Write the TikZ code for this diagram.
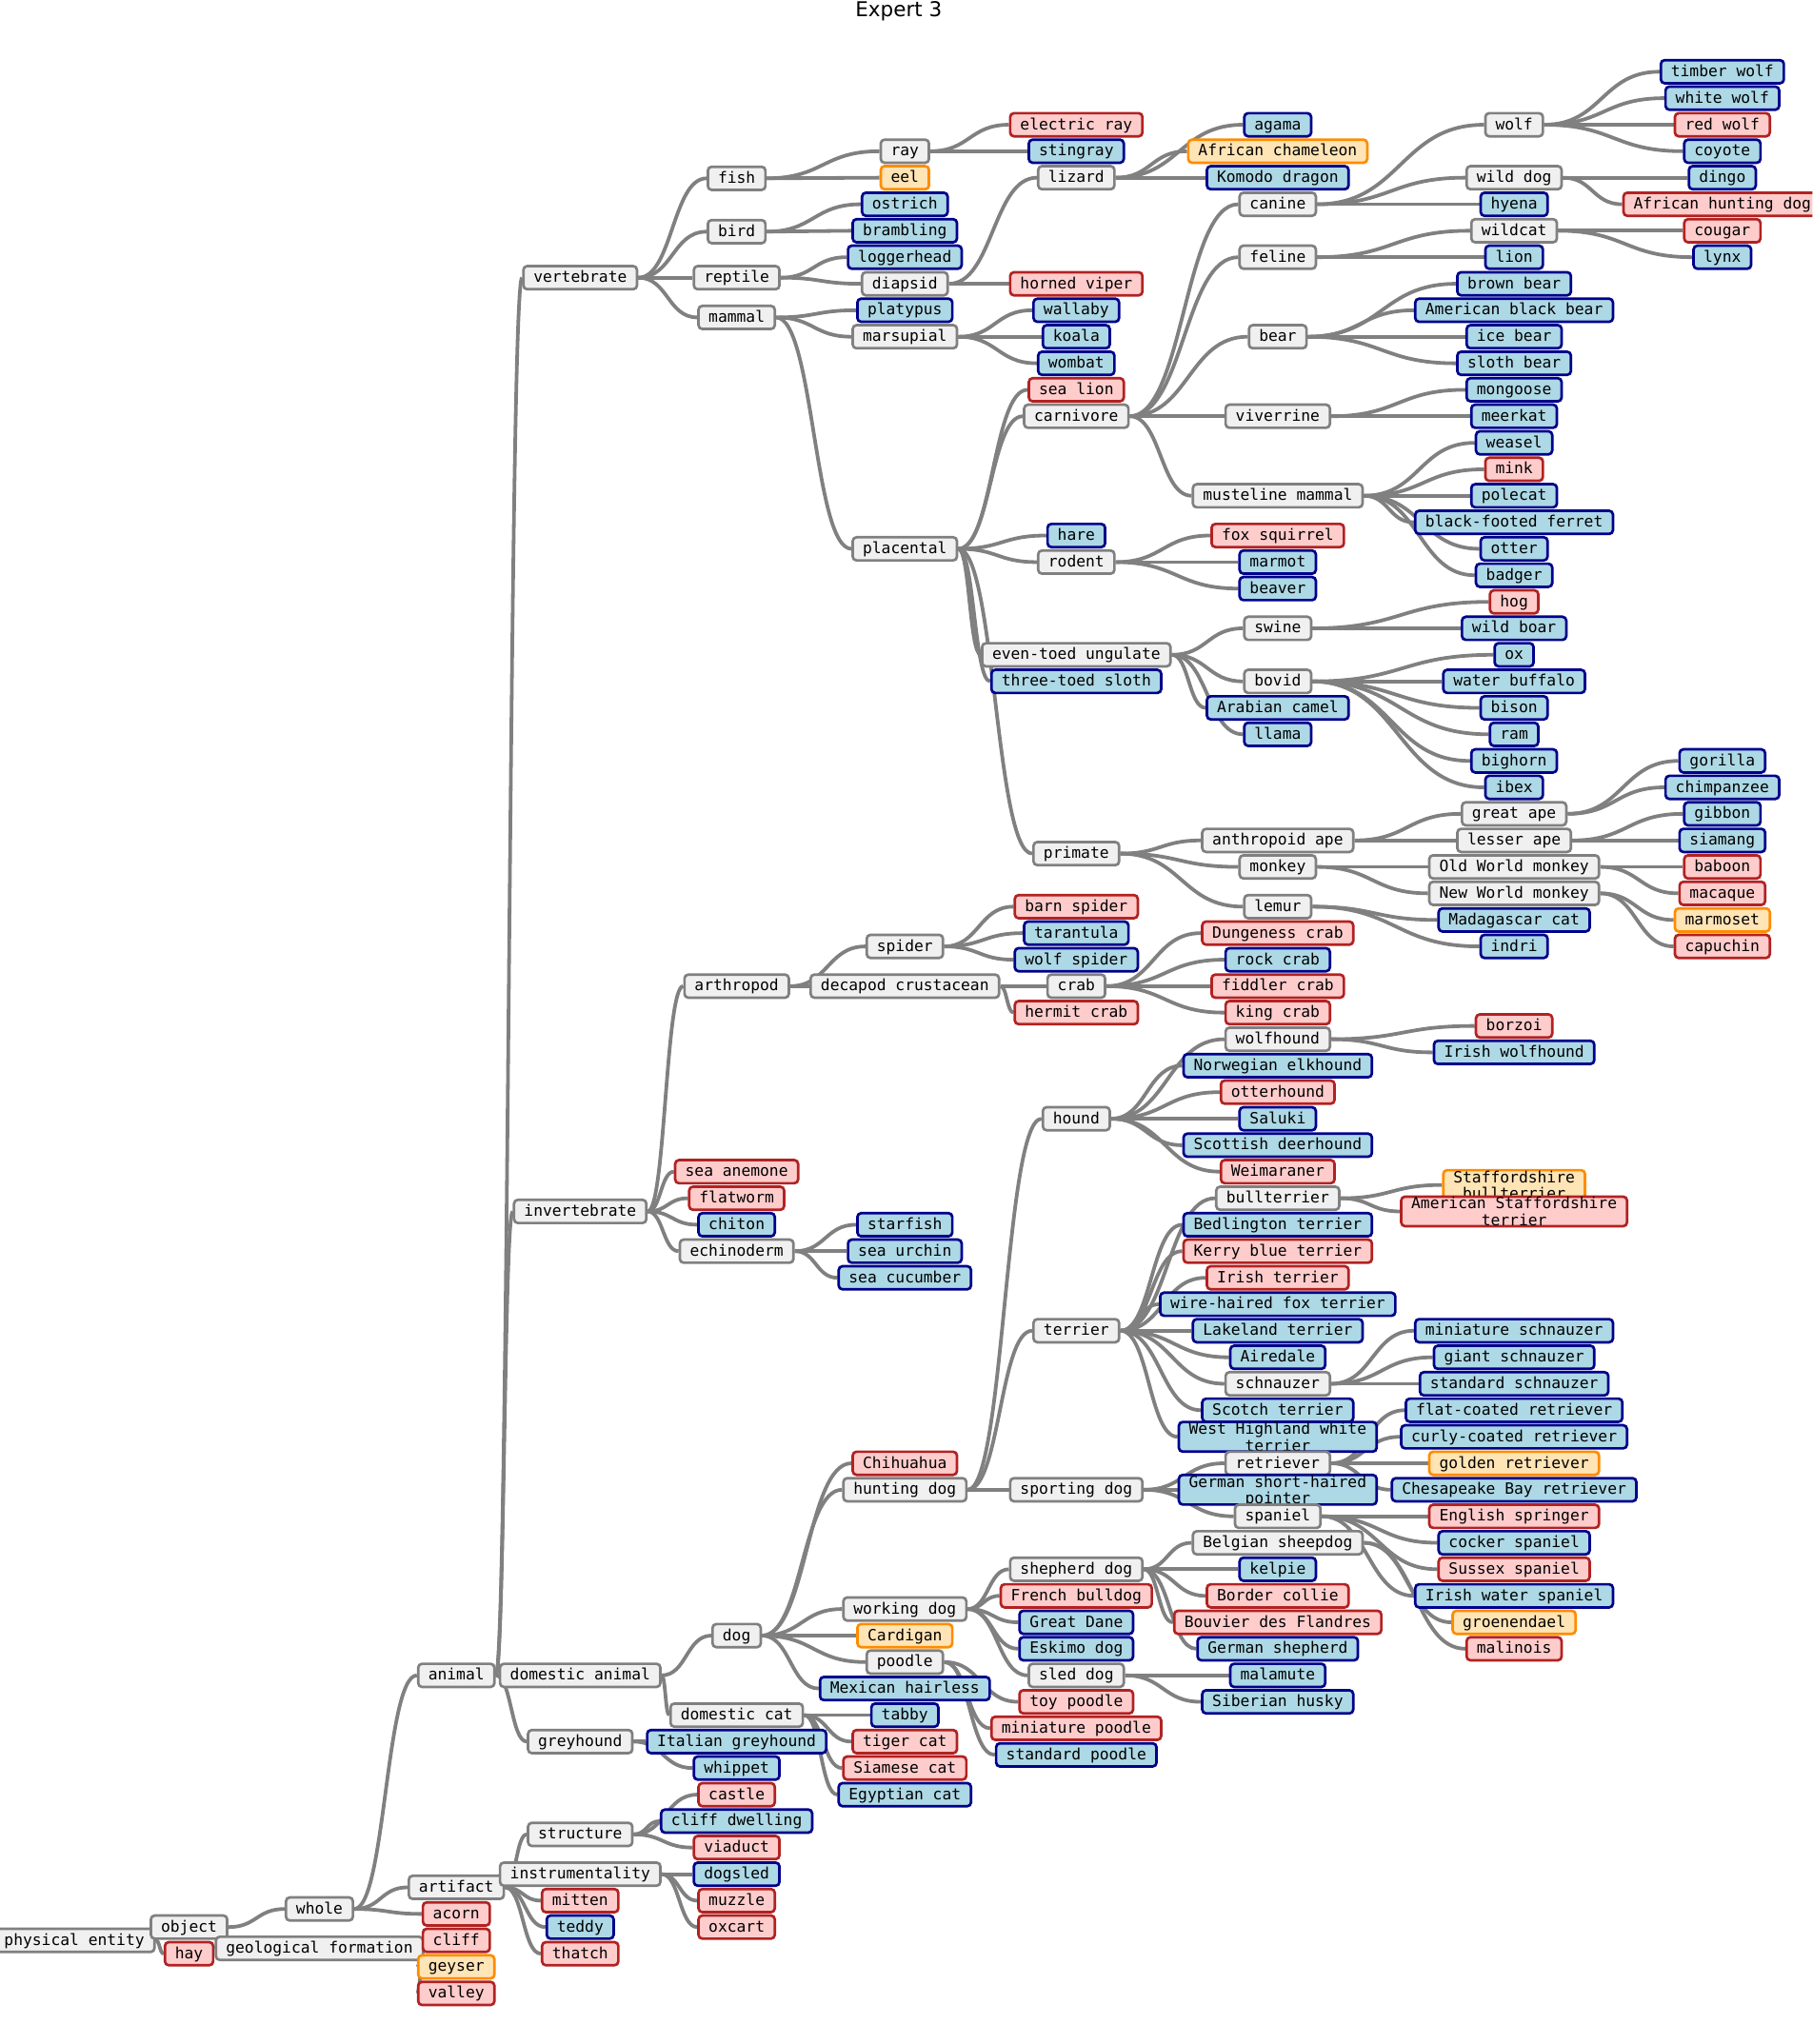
\documentclass[tikz,border=0pt]{standalone}
\usepackage{fontspec}
\newfontfamily\monofont{DejaVu Sans Mono}
\newfontfamily\titlefont{DejaVu Sans}
\usetikzlibrary{calc}
\pgfdeclarelayer{bg}
\pgfsetlayers{bg,main}
\definecolor{gfill}{HTML}{F0F0F0}
\definecolor{gline}{HTML}{808080}
\definecolor{bfill}{HTML}{ADD8E6}
\definecolor{bline}{HTML}{00008B}
\definecolor{rfill}{HTML}{FFCCCC}
\definecolor{rline}{HTML}{B22222}
\definecolor{ofill}{HTML}{FFE4B5}
\definecolor{oline}{HTML}{FF8C00}
\tikzset{
 box/.style={rectangle, rounded corners=4pt, line width=2.7pt,
   font=\monofont\fontsize{16.3}{17.7}\selectfont,
   inner xsep=10.6pt, inner ysep=0pt, minimum height=24.3pt,
   text height=12pt, text depth=2pt},
 gnode/.style={box, fill=gfill, draw=gline},
 bnode/.style={box, fill=bfill, draw=bline},
 rnode/.style={box, fill=rfill, draw=rline},
 onode/.style={box, fill=ofill, draw=oline},
 twoline/.style={align=center, text height={}, text depth=0pt, minimum height=31pt, inner ysep=0.5pt},
 linkline/.style={draw=gline, line width=3.8pt},
 titlestyle/.style={font=\titlefont\fontsize{21.5}{24}\selectfont, inner sep=0pt},
}
\newcommand\treelink[2]{\draw[linkline] let \p1=(#1.east), \p2=(#2.west) in (\p1) .. controls ({(\x1+\x2)/2},\y1) and ({(\x1+\x2)/2},\y2) .. (\p2);}
\newcommand\treelinks[2]{\foreach \c in {#2} {\treelink{#1}{\c}}}
\begin{document}
\begin{tikzpicture}[x=1.3692pt,y=-1.3692pt]
\useasboundingbox (0,0) rectangle (1390,1568);
\clip (0,0) rectangle (1390,1568);
\node[titlestyle, anchor=base] (title) at (689.3,12.7) {Expert 3};
% column 0-3
\node[gnode] (pe) at (57,1488.5) {physical entity};
\node[gnode] (obj) at (145,1478.3) {object};
\node[rnode] (hay) at (145,1498.7) {hay};
\node[gnode] (whole) at (245,1464.4) {whole};
\node[gnode] (geo) at (245,1494.6) {geological formation};
\node[gnode] (animal) at (350,1285.2) {animal};
\node[gnode] (artifact) at (350,1447.8) {artifact};
\node[rnode] (acorn) at (350,1468.2) {acorn};
\node[rnode] (cliff) at (350,1488.5) {cliff};
\node[onode] (geyser) at (350,1508.8) {geyser};
\node[rnode] (valley) at (350,1529.2) {valley};
% column 4
\node[gnode] (vertebrate) at (445,213) {vertebrate};
\node[gnode] (invertebrate) at (445,929.3) {invertebrate};
\node[gnode] (domanimal) at (445,1285.2) {domestic animal};
\node[gnode] (greyhound) at (445,1336) {greyhound};
\node[gnode] (structure) at (445,1407.2) {structure};
\node[gnode] (instrumentality) at (445,1437.7) {instrumentality};
\node[rnode] (mitten) at (445,1458) {mitten};
\node[bnode] (teddy) at (445,1478.3) {teddy};
\node[rnode] (thatch) at (445,1498.7) {thatch};
% column 5
\node[gnode] (fish) at (565,136.8) {fish};
\node[gnode] (bird) at (565,177.7) {bird};
\node[gnode] (reptile) at (565,213) {reptile};
\node[gnode] (mammal) at (565,243.5) {mammal};
\node[gnode] (arthropod) at (565,756.5) {arthropod};
\node[rnode] (seaanemone) at (565,898.8) {sea anemone};
\node[rnode] (flatworm) at (565,919.2) {flatworm};
\node[bnode] (chiton) at (565,939.5) {chiton};
\node[gnode] (echinoderm) at (565,959.8) {echinoderm};
\node[gnode] (dog) at (565,1254.7) {dog};
\node[gnode] (domcat) at (565,1315.7) {domestic cat};
\node[bnode] (italgrey) at (565,1336) {Italian greyhound};
\node[bnode] (whippet) at (565,1356.3) {whippet};
\node[rnode] (castle) at (565,1376.7) {castle};
\node[bnode] (cliffdw) at (565,1397) {cliff dwelling};
\node[rnode] (viaduct) at (565,1417.3) {viaduct};
\node[bnode] (dogsled) at (565,1437.7) {dogsled};
\node[rnode] (muzzle) at (565,1458) {muzzle};
\node[rnode] (oxcart) at (565,1478.3) {oxcart};
% column 6
\node[gnode] (ray) at (694,116) {ray};
\node[onode] (eel) at (694,136.3) {eel};
\node[bnode] (ostrich) at (694,156.7) {ostrich};
\node[bnode] (brambling) at (694,177) {brambling};
\node[bnode] (loggerhead) at (694,197.3) {loggerhead};
\node[gnode] (diapsid) at (694,217.7) {diapsid};
\node[bnode] (platypus) at (694,238) {platypus};
\node[gnode] (marsupial) at (694,258.3) {marsupial};
\node[gnode] (placental) at (694,421) {placental};
\node[gnode] (spider) at (694,726) {spider};
\node[gnode] (decapod) at (694,756.5) {decapod crustacean};
\node[bnode] (starfish) at (694,939.5) {starfish};
\node[bnode] (seaurchin) at (694,959.8) {sea urchin};
\node[bnode] (seacucumber) at (694,980.2) {sea cucumber};
\node[rnode] (chihuahua) at (694,1122.5) {Chihuahua};
\node[gnode] (huntingdog) at (694,1142.8) {hunting dog};
\node[gnode] (workingdog) at (694,1234.3) {working dog};
\node[onode] (cardigan) at (694,1254.7) {Cardigan};
\node[gnode] (poodle) at (694,1275) {poodle};
\node[bnode] (mexhairless) at (694,1295.3) {Mexican hairless};
\node[bnode] (tabby) at (694,1315.7) {tabby};
\node[rnode] (tigercat) at (694,1336) {tiger cat};
\node[rnode] (siamese) at (694,1356.3) {Siamese cat};
\node[bnode] (egyptian) at (694,1376.7) {Egyptian cat};
% column 7
\node[rnode] (electricray) at (825.5,95.7) {electric ray};
\node[bnode] (stingray) at (825.5,116) {stingray};
\node[gnode] (lizard) at (825.5,136.3) {lizard};
\node[rnode] (hornedviper) at (825.5,217.7) {horned viper};
\node[bnode] (wallaby) at (825.5,238) {wallaby};
\node[bnode] (koala) at (825.5,258.3) {koala};
\node[bnode] (wombat) at (825.5,278.7) {wombat};
\node[rnode] (sealion) at (825.5,299) {sea lion};
\node[gnode] (carnivore) at (825.5,319.3) {carnivore};
\node[bnode] (hare) at (825.5,410.8) {hare};
\node[gnode] (rodent) at (825.5,431.2) {rodent};
\node[gnode] (eventoed) at (825.5,502.3) {even-toed ungulate};
\node[bnode] (sloth) at (825.5,522.7) {three-toed sloth};
\node[gnode] (primate) at (825.5,654.8) {primate};
\node[rnode] (barnspider) at (825.5,695.5) {barn spider};
\node[bnode] (tarantula) at (825.5,715.8) {tarantula};
\node[bnode] (wolfspider) at (825.5,736.2) {wolf spider};
\node[gnode] (crab) at (825.5,756.5) {crab};
\node[rnode] (hermitcrab) at (825.5,776.8) {hermit crab};
\node[gnode] (hound) at (825.5,858.2) {hound};
\node[gnode] (terrier) at (825.5,1020.8) {terrier};
\node[gnode] (sportingdog) at (825.5,1142.8) {sporting dog};
\node[gnode] (shepherddog) at (825.5,1203.8) {shepherd dog};
\node[rnode] (frenchbulldog) at (825.5,1224.2) {French bulldog};
\node[bnode] (greatdane) at (825.5,1244.5) {Great Dane};
\node[bnode] (eskimo) at (825.5,1264.8) {Eskimo dog};
\node[gnode] (sleddog) at (825.5,1285.2) {sled dog};
\node[rnode] (toypoodle) at (825.5,1305.5) {toy poodle};
\node[rnode] (minipoodle) at (825.5,1325.8) {miniature poodle};
\node[bnode] (stdpoodle) at (825.5,1346.2) {standard poodle};
% column 8
\node[bnode] (agama) at (980,95.7) {agama};
\node[onode] (chameleon) at (980,116) {African chameleon};
\node[bnode] (komodo) at (980,136.3) {Komodo dragon};
\node[gnode] (canine) at (980,156.7) {canine};
\node[gnode] (feline) at (980,197.3) {feline};
\node[gnode] (bear) at (980,258.3) {bear};
\node[gnode] (viverrine) at (980,319.3) {viverrine};
\node[gnode] (musteline) at (980,380.3) {musteline mammal};
\node[rnode] (foxsquirrel) at (980,410.8) {fox squirrel};
\node[bnode] (marmot) at (980,431.2) {marmot};
\node[bnode] (beaver) at (980,451.5) {beaver};
\node[gnode] (swine) at (980,482) {swine};
\node[gnode] (bovid) at (980,522.7) {bovid};
\node[bnode] (camel) at (980,543) {Arabian camel};
\node[bnode] (llama) at (980,563.3) {llama};
\node[gnode] (anthropoid) at (980,644.7) {anthropoid ape};
\node[gnode] (monkey) at (980,665) {monkey};
\node[gnode] (lemur) at (980,695.5) {lemur};
\node[rnode] (dungeness) at (980,715.8) {Dungeness crab};
\node[bnode] (rockcrab) at (980,736.2) {rock crab};
\node[rnode] (fiddler) at (980,756.5) {fiddler crab};
\node[rnode] (kingcrab) at (980,776.8) {king crab};
\node[gnode] (wolfhound) at (980,797.2) {wolfhound};
\node[bnode] (elkhound) at (980,817.5) {Norwegian elkhound};
\node[rnode] (otterhound) at (980,837.8) {otterhound};
\node[bnode] (saluki) at (980,858.2) {Saluki};
\node[bnode] (deerhound) at (980,878.5) {Scottish deerhound};
\node[rnode] (weimaraner) at (980,898.8) {Weimaraner};
\node[gnode] (bullterrier) at (980,919.2) {bullterrier};
\node[bnode] (bedlington) at (980,939.5) {Bedlington terrier};
\node[rnode] (kerry) at (980,959.8) {Kerry blue terrier};
\node[rnode] (irishterrier) at (980,980.2) {Irish terrier};
\node[bnode] (wirehaired) at (980,1000.5) {wire-haired fox terrier};
\node[bnode] (lakeland) at (980,1020.8) {Lakeland terrier};
\node[bnode] (airedale) at (980,1041.2) {Airedale};
\node[gnode] (schnauzer) at (980,1061.5) {schnauzer};
\node[bnode] (scotch) at (980,1081.8) {Scotch terrier};
\node[bnode,twoline] (westhighland) at (980,1102.2) {West Highland white\\terrier};
\node[gnode] (retriever) at (980,1122.5) {retriever};
\node[bnode,twoline] (gsp) at (980,1142.8) {German short-haired\\pointer};
\node[gnode] (spaniel) at (980,1163.2) {spaniel};
\node[gnode] (belgian) at (980,1183.5) {Belgian sheepdog};
\node[bnode] (kelpie) at (980,1203.8) {kelpie};
\node[rnode] (bordercollie) at (980,1224.2) {Border collie};
\node[rnode] (bouvier) at (980,1244.5) {Bouvier des Flandres};
\node[bnode] (germanshepherd) at (980,1264.8) {German shepherd};
\node[bnode] (malamute) at (980,1285.2) {malamute};
\node[bnode] (husky) at (980,1305.5) {Siberian husky};
% column 9
\node[gnode] (wolf) at (1161.3,95.7) {wolf};
\node[gnode] (wilddog) at (1161.3,136.3) {wild dog};
\node[bnode] (hyena) at (1161.3,156.7) {hyena};
\node[gnode] (wildcat) at (1161.3,177) {wildcat};
\node[bnode] (lion) at (1161.3,197.3) {lion};
\node[bnode] (brownbear) at (1161.3,217.7) {brown bear};
\node[bnode] (blackbear) at (1161.3,238) {American black bear};
\node[bnode] (icebear) at (1161.3,258.3) {ice bear};
\node[bnode] (slothbear) at (1161.3,278.7) {sloth bear};
\node[bnode] (mongoose) at (1161.3,299) {mongoose};
\node[bnode] (meerkat) at (1161.3,319.3) {meerkat};
\node[bnode] (weasel) at (1161.3,339.7) {weasel};
\node[rnode] (mink) at (1161.3,360) {mink};
\node[bnode] (polecat) at (1161.3,380.3) {polecat};
\node[bnode] (bfferret) at (1161.3,400.7) {black-footed ferret};
\node[bnode] (otter) at (1161.3,421) {otter};
\node[bnode] (badger) at (1161.3,441.3) {badger};
\node[rnode] (hog) at (1161.3,461.7) {hog};
\node[bnode] (wildboar) at (1161.3,482) {wild boar};
\node[bnode] (ox) at (1161.3,502.3) {ox};
\node[bnode] (waterbuffalo) at (1161.3,522.7) {water buffalo};
\node[bnode] (bison) at (1161.3,543) {bison};
\node[bnode] (ram) at (1161.3,563.3) {ram};
\node[bnode] (bighorn) at (1161.3,583.7) {bighorn};
\node[bnode] (ibex) at (1161.3,604) {ibex};
\node[gnode] (greatape) at (1161.3,624.3) {great ape};
\node[gnode] (lesserape) at (1161.3,644.7) {lesser ape};
\node[gnode] (oldworld) at (1161.3,665) {Old World monkey};
\node[gnode] (newworld) at (1161.3,685.3) {New World monkey};
\node[bnode] (madcat) at (1161.3,705.7) {Madagascar cat};
\node[bnode] (indri) at (1161.3,726) {indri};
\node[rnode] (borzoi) at (1161.3,787) {borzoi};
\node[bnode] (irishwolfhound) at (1161.3,807.3) {Irish wolfhound};
\node[onode,twoline] (staffbull) at (1161.3,909) {Staffordshire\\bullterrier};
\node[rnode,twoline] (amstaff) at (1161.3,929.3) {American Staffordshire\\terrier};
\node[bnode] (minischnauzer) at (1161.3,1020.8) {miniature schnauzer};
\node[bnode] (giantschnauzer) at (1161.3,1041.2) {giant schnauzer};
\node[bnode] (stdschnauzer) at (1161.3,1061.5) {standard schnauzer};
\node[bnode] (flatcoated) at (1161.3,1081.8) {flat-coated retriever};
\node[bnode] (curlycoated) at (1161.3,1102.2) {curly-coated retriever};
\node[onode] (golden) at (1161.3,1122.5) {golden retriever};
\node[bnode] (chesapeake) at (1161.3,1142.8) {Chesapeake Bay retriever};
\node[rnode] (springer) at (1161.3,1163.2) {English springer};
\node[bnode] (cocker) at (1161.3,1183.5) {cocker spaniel};
\node[rnode] (sussex) at (1161.3,1203.8) {Sussex spaniel};
\node[bnode] (irishwater) at (1161.3,1224.2) {Irish water spaniel};
\node[onode] (groenendael) at (1161.3,1244.5) {groenendael};
\node[rnode] (malinois) at (1161.3,1264.8) {malinois};
% column 10
\node[bnode] (timberwolf) at (1321,55) {timber wolf};
\node[bnode] (whitewolf) at (1321,75.3) {white wolf};
\node[rnode] (redwolf) at (1321,95.7) {red wolf};
\node[bnode] (coyote) at (1321,116) {coyote};
\node[bnode] (dingo) at (1321,136.3) {dingo};
\node[rnode] (ahd) at (1321,156.7) {African hunting dog};
\node[rnode] (cougar) at (1321,177) {cougar};
\node[bnode] (lynx) at (1321,197.3) {lynx};
\node[bnode] (gorilla) at (1321,583.7) {gorilla};
\node[bnode] (chimp) at (1321,604) {chimpanzee};
\node[bnode] (gibbon) at (1321,624.3) {gibbon};
\node[bnode] (siamang) at (1321,644.7) {siamang};
\node[rnode] (baboon) at (1321,665) {baboon};
\node[rnode] (macaque) at (1321,685.3) {macaque};
\node[onode] (marmoset) at (1321,705.7) {marmoset};
\node[rnode] (capuchin) at (1321,726) {capuchin};
% connectors
\begin{pgfonlayer}{bg}
\treelinks{pe}{obj,hay}
\treelinks{obj}{whole,geo}
\treelinks{whole}{animal,artifact,acorn}
\treelinks{geo}{cliff,geyser,valley}
\treelinks{animal}{vertebrate,invertebrate,domanimal,greyhound}
\treelinks{artifact}{structure,instrumentality,mitten,teddy,thatch}
\treelinks{structure}{castle,cliffdw,viaduct}
\treelinks{instrumentality}{dogsled,muzzle,oxcart}
\treelinks{domanimal}{dog,domcat}
\treelinks{greyhound}{italgrey,whippet}
\treelinks{domcat}{tabby,tigercat,siamese,egyptian}
\treelinks{dog}{chihuahua,huntingdog,workingdog,cardigan,poodle,mexhairless}
\treelinks{huntingdog}{hound,terrier,sportingdog}
\treelinks{workingdog}{shepherddog,frenchbulldog,greatdane,eskimo,sleddog}
\treelinks{poodle}{toypoodle,minipoodle,stdpoodle}
\treelinks{shepherddog}{belgian,kelpie,bordercollie,bouvier,germanshepherd}
\treelinks{belgian}{groenendael,malinois}
\treelinks{sleddog}{malamute,husky}
\treelinks{sportingdog}{retriever,gsp,spaniel}
\treelinks{retriever}{flatcoated,curlycoated,golden,chesapeake}
\treelinks{spaniel}{springer,cocker,sussex,irishwater}
\treelinks{terrier}{bullterrier,bedlington,kerry,irishterrier,wirehaired,lakeland,airedale,schnauzer,scotch,westhighland}
\treelinks{bullterrier}{staffbull,amstaff}
\treelinks{schnauzer}{minischnauzer,giantschnauzer,stdschnauzer}
\treelinks{hound}{wolfhound,elkhound,otterhound,saluki,deerhound,weimaraner}
\treelinks{wolfhound}{borzoi,irishwolfhound}
\treelinks{invertebrate}{arthropod,seaanemone,flatworm,chiton,echinoderm}
\treelinks{echinoderm}{starfish,seaurchin,seacucumber}
\treelinks{arthropod}{spider,decapod}
\treelinks{spider}{barnspider,tarantula,wolfspider}
\treelinks{decapod}{crab,hermitcrab}
\treelinks{crab}{dungeness,rockcrab,fiddler,kingcrab}
\treelinks{vertebrate}{fish,bird,reptile,mammal}
\treelinks{fish}{ray,eel}
\treelinks{ray}{electricray,stingray}
\treelinks{bird}{ostrich,brambling}
\treelinks{reptile}{loggerhead,diapsid}
\treelinks{diapsid}{lizard,hornedviper}
\treelinks{lizard}{agama,chameleon,komodo}
\treelinks{mammal}{platypus,marsupial,placental}
\treelinks{marsupial}{wallaby,koala,wombat}
\treelinks{placental}{sealion,carnivore,hare,rodent,eventoed,sloth,primate}
\treelinks{carnivore}{canine,feline,bear,viverrine,musteline}
\treelinks{canine}{wolf,wilddog,hyena}
\treelinks{wolf}{timberwolf,whitewolf,redwolf,coyote}
\treelinks{wilddog}{dingo,ahd}
\treelinks{feline}{wildcat,lion}
\treelinks{wildcat}{cougar,lynx}
\treelinks{bear}{brownbear,blackbear,icebear,slothbear}
\treelinks{viverrine}{mongoose,meerkat}
\treelinks{musteline}{weasel,mink,polecat,bfferret,otter,badger}
\treelinks{rodent}{foxsquirrel,marmot,beaver}
\treelinks{eventoed}{swine,bovid,camel,llama}
\treelinks{swine}{hog,wildboar}
\treelinks{bovid}{ox,waterbuffalo,bison,ram,bighorn,ibex}
\treelinks{primate}{anthropoid,monkey,lemur}
\treelinks{anthropoid}{greatape,lesserape}
\treelinks{greatape}{gorilla,chimp}
\treelinks{lesserape}{gibbon,siamang}
\treelinks{monkey}{oldworld,newworld}
\treelinks{oldworld}{baboon,macaque}
\treelinks{newworld}{marmoset,capuchin}
\treelinks{lemur}{madcat,indri}
\end{pgfonlayer}
\end{tikzpicture}
\end{document}
